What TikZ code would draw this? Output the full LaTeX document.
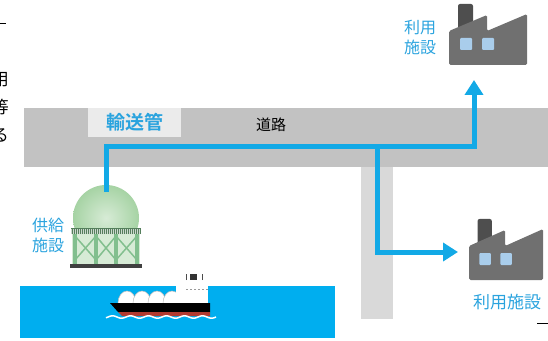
\documentclass[tikz,border=0pt]{standalone}
\usepackage{fontspec}
\usepackage{xcolor}
\usepackage{tikz}
\usetikzlibrary{arrows.meta}
\newfontfamily\jp{Noto Sans CJK JP}
\newfontfamily\jpbold{Noto Sans CJK JP Bold}
\definecolor{PipeBlue}{HTML}{12A9E6}
\definecolor{LabelBlue}{HTML}{2AA3DE}
\definecolor{RoadGray}{HTML}{C2C2C2}
\definecolor{LaneGray}{HTML}{D9D9D9}
\definecolor{TagGray}{HTML}{EBEBEB}
\definecolor{SeaBlue}{HTML}{00AEEF}
\definecolor{PlantGray}{HTML}{707070}
\definecolor{StackGray}{HTML}{4E4E4E}
\definecolor{WinBlue}{HTML}{A9CDEB}
\definecolor{TankGreen}{HTML}{A6D3A4}
\definecolor{LegGreen}{HTML}{82BF8E}
\definecolor{RailGreen}{HTML}{557F5C}
\definecolor{HullRed}{HTML}{B23A30}

\begin{document}
\begin{tikzpicture}[
  x=1pt,y=1pt,
  lbl/.style={text=LabelBlue,font=\jp\fontsize{16}{20}\selectfont,align=center,inner sep=0pt},
  tag/.style={fill=TagGray,text=LabelBlue,font=\jpbold\fontsize{19}{19}\selectfont,
    minimum width=93pt,minimum height=29pt,inner sep=0pt},
  pipe/.style={draw=PipeBlue,line width=5pt},
  flow/.style={pipe,-{Triangle[length=15pt,width=18pt]}},
  factory/.pic={
    \fill[StackGray,rounded corners=2pt] (9,20) rectangle (24,61);
    \fill[PlantGray,rounded corners=1.5pt] (0,0) -- (0,34) -- (38,50) -- (38,34)
      -- (78,51) -- (78,0) -- cycle;
    \foreach \wx in {11,33}
      {\fill[WinBlue,rounded corners=1pt] (\wx,15) rectangle ++(12,12);}
  }
]
  \useasboundingbox (0,0) rectangle (548,340);

  % roads and sea
  \fill[RoadGray] (24,173) rectangle (548,232);
  \fill[LaneGray] (361,21) rectangle (393,173);
  \fill[SeaBlue] (20,2) rectangle (335,54);

  \node[tag] (pipetag) at (134.5,217.5) {輸送管};
  \node[font=\jp\fontsize{15}{15}\selectfont,inner sep=0pt] (road) at (271,215) {道路};

  % spherical tank
  \shade[inner color=TankGreen!45!white,outer color=TankGreen] (106,122) circle (33);
  \fill[TankGreen!45!white] (72,76) rectangle (140,106);
  \foreach \lx in {75,96,116,137}
    {\fill[LegGreen] (\lx-2,76) rectangle (\lx+2,106);}
  \foreach \ax/\bx in {75/96,96/116,116/137}
    {\draw[LegGreen,line width=1.5pt] (\ax,104) -- (\bx,80) (\ax,80) -- (\bx,104);}
  \fill[RailGreen!30!white] (71,106) rectangle (141,112);
  \draw[RailGreen,line width=1pt] (71,111.5) -- (141,111.5);
  \foreach \rx in {72,74,...,140}
    {\draw[RailGreen,line width=.6pt] (\rx,106) -- (\rx,111);}
  \fill[black!75] (70,72) rectangle (142,76);

  % carrier
  \foreach \i in {0,...,3}
    {\filldraw[fill=white,draw=black!25,line width=.5pt] (127+15*\i,37) ellipse [x radius=9,y radius=12];}
  \fill[white] (176,37) rectangle (208,55);
  \fill[white] (184,55) rectangle (205,60);
  \fill[black!80] (190,60) rectangle (197,66);
  \draw[black!70,line width=.8pt] (186,60) -- (186,66) (202,60) -- (202,66);
  \foreach \wx in {186,190,...,206}
    {\fill[black!40] (\wx,50) rectangle ++(1.5,1.5);}
  \fill[black] (110,37) -- (210,37) -- (210,28) -- (118,28) -- cycle;
  \fill[HullRed] (118,28) -- (210,28) -- (210,24) -- (122,24) -- cycle;
  \draw[white,line width=1.5pt] plot[domain=106:216,samples=80] (\x,{23+1.2*sin(20*\x)});

  % plants
  \pic (plantA) at (449,275) {factory};
  \pic[xscale=.95] (plantB) at (469,60) {factory};
  \node[lbl] (useA) at (420,303) {利用\\施設};
  \node[lbl,font=\jp\fontsize{17}{20}\selectfont] (useB) at (507,38) {利用施設};
  \node[lbl] (supply) at (48,105) {供給\\施設};

  % pipeline
  \coordinate (inlet) at (106,148);
  \coordinate (split) at (377,193);
  \coordinate (outA) at (474,260);
  \coordinate (outB) at (458,88);
  \draw[flow] (inlet) |- (split) -| (outA);
  \draw[flow] (split) |- (outB);

  \node[anchor=east,inner sep=0pt,align=right,font=\jp\fontsize{17}{28}\selectfont] (margin) at (9,233) {用\\等\\る};
  \draw[line width=1pt] (0,316) -- (6,316);
  \draw[line width=1.5pt] (537,16.5) -- (548,16.5);
\end{tikzpicture}
\end{document}
